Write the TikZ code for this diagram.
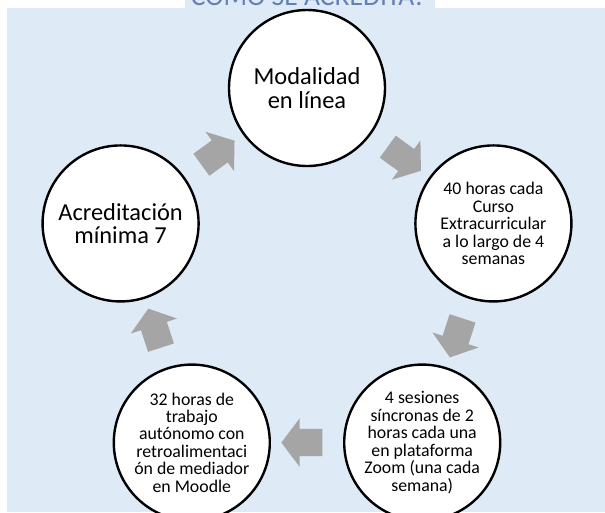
\documentclass[tikz,border=0pt]{standalone}
\usepackage{fontspec}
\setmainfont{Carlito}
\usetikzlibrary{calc,shapes.arrows}
\definecolor{bgblue}{RGB}{222,234,246}
\definecolor{arrowgray}{RGB}{165,165,165}
\definecolor{titleblue}{RGB}{100,128,180}
\tikzset{
  stage/.style={circle,draw=black,line width=1.8pt,fill=white,minimum size=117pt,inner sep=0pt,align=center},
  stagebig/.style={stage,font=\fontsize{18.3}{17.6}\selectfont},
  stagesmall/.style={stage,font=\fontsize{13.35}{13.1}\selectfont},
  cyclearrow/.style={single arrow,fill=arrowgray,minimum height=30.75pt,inner xsep=0pt,inner ysep=10pt,single arrow head extend=8pt,single arrow tip angle=106}
}

\begin{document}
\begin{tikzpicture}[x=0.75pt,y=0.75pt,yscale=-1,xscale=1]
\useasboundingbox (0,0) rectangle (605,512);
\clip (0,0) rectangle (605,512);
% background
\fill[bgblue] (7,7.5) rectangle (605,512);
\fill[bgblue] (184.5,0) rectangle (435,8);
\node[anchor=base,text=titleblue,font=\fontsize{20.7}{24}\selectfont,inner sep=0pt] (title) at (308.5,5.5) {CÓMO SE ACREDITA?};

% cycle
\coordinate (ctr) at (307,284);
\node[stagebig] (modal) at ($(ctr)+(-90:196)$) {Modalidad\\en línea};
\node[stagesmall] (horas) at ($(ctr)+(-18:196)$) {40 horas cada\\Curso\\Extracurricular\\a lo largo de 4\\semanas};
\node[stagesmall] (zoom) at ($(ctr)+(54:196)$) {4 sesiones\\síncronas de 2\\horas cada una\\en plataforma\\Zoom (una cada\\semana)};
\node[stagesmall] (moodle) at ($(ctr)+(126:196)$) {32 horas de\\trabajo\\autónomo con\\retroalimentaci\\ón de mediador\\en Moodle};
\node[stagebig] (acred) at ($(ctr)+(198:196)$) {Acreditación\\mínima 7};

% arrows between stages
\node[cyclearrow,rotate=-36] (a1) at ($(modal)!0.5!(horas)$) {};
\node[cyclearrow,rotate=-108] (a2) at ($(horas)!0.5!(zoom)$) {};
\node[cyclearrow,rotate=180] (a3) at ($(zoom)!0.5!(moodle)$) {};
\node[cyclearrow,rotate=108] (a4) at ($(moodle)!0.5!(acred)$) {};
\node[cyclearrow,rotate=36] (a5) at ($(acred)!0.5!(modal)$) {};
\end{tikzpicture}
\end{document}
